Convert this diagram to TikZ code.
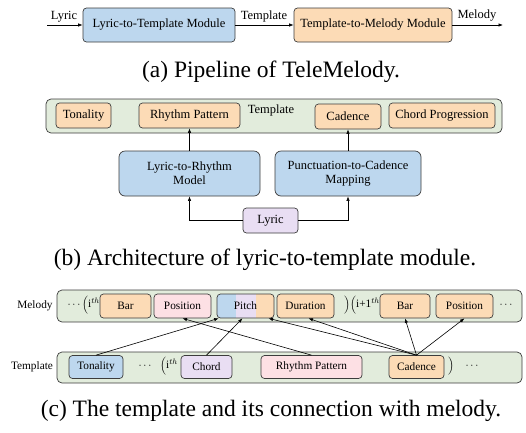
\documentclass[tikz,border=0pt]{standalone}
\usepackage{fontspec}
\setmainfont{Liberation Serif}
\usetikzlibrary{arrows.meta,calc}

\definecolor{cblue}{RGB}{189,215,238}
\definecolor{corange}{RGB}{252,219,182}
\definecolor{cpink}{RGB}{253,224,228}
\definecolor{cpurple}{RGB}{233,222,243}
\definecolor{cgreen}{RGB}{226,236,220}
\definecolor{edge}{RGB}{60,60,60}

\tikzset{
  box/.style={draw=edge, line width=0.7pt, rounded corners=3.5pt, inner sep=0pt, align=center},
  frame/.style={box, fill=cgreen, rounded corners=5pt},
  lbl/.style={inner sep=0pt},
  arr/.style={-{Latex[length=4.5pt,width=3.4pt]}, line width=0.6pt},
  fa/.style={font=\fontsize{12.5}{14}\selectfont},
  fc/.style={font=\fontsize{11.3}{13}\selectfont},
  captext/.style={lbl, font=\fontsize{23.5}{26}\selectfont},
}

\begin{document}
\begin{tikzpicture}[x=1pt,y=-1pt]
\useasboundingbox (0,0) rectangle (526,432);

% ---------- (a) pipeline ----------
\node[box, fa, fill=cblue, minimum width=152pt, minimum height=34pt] (l2t) at (159,25) {Lyric-to-Template Module};
\node[box, fa, fill=corange, minimum width=158pt, minimum height=34pt] (t2m) at (373,25) {Template-to-Melody Module};
\coordinate (lyrin) at (47,25);
\coordinate (melout) at (503,25);
\draw[arr] (lyrin) -- (l2t.west);
\draw[arr] (l2t.east) -- (t2m.west);
\draw[arr] (t2m.east) -- (melout);
\node[lbl, fa] (la) at (64,17) {Lyric};
\node[lbl, fa] (ta) at (264,16) {Template};
\node[lbl, fa] (ma) at (477,16) {Melody};
\node[captext] (capa) at (271,72) {(a) Pipeline of TeleMelody.};

% ---------- (b) lyric-to-template module ----------
\node[frame, minimum width=456pt, minimum height=34pt] (tplb) at (274,116) {};
\node[box, fa, fill=corange, minimum width=55pt, minimum height=25pt] (tonb) at (83.5,115.5) {Tonality};
\node[box, fa, fill=corange, minimum width=101pt, minimum height=25pt] (rhyb) at (189.5,115.5) {Rhythm Pattern};
\node[lbl, fa] (tplbl) at (271,110) {Template};
\node[box, fa, fill=corange, minimum width=66pt, minimum height=25pt] (cadb) at (348,116.5) {Cadence};
\node[box, fa, fill=corange, minimum width=106pt, minimum height=25pt] (chpb) at (442,115.5) {Chord Progression};
\node[box, fa, fill=cblue, minimum width=141pt, minimum height=45pt, rounded corners=6pt] (l2r) at (189.5,173.5) {Lyric-to-Rhythm\\Model};
\node[box, fa, fill=cblue, minimum width=146pt, minimum height=45pt, rounded corners=6pt] (pcm) at (348,173.5) {Punctuation-to-Cadence\\Mapping};
\node[box, fa, fill=cpurple, minimum width=55pt, minimum height=25pt] (lyrb) at (270.5,220.5) {Lyric};
\draw[arr] (lyrb.west) -| (l2r.south);
\draw[arr] (lyrb.east) -| (pcm.south);
\draw[arr] (l2r.north) -- (rhyb.south);
\draw[arr] (pcm.north) -- (cadb.south);
\node[captext] (capb) at (265,260) {(b) Architecture of lyric-to-template module.};

% ---------- (c) template and melody ----------
\node[lbl, fc] (mlbl) at (35,306) {Melody};
\node[frame, minimum width=465pt, minimum height=32pt] (melc) at (289.5,306) {};
\node[lbl, fc, anchor=east] (mopen) at (100,305) {$\cdots\Big($i$^{th}$};
\node[box, fc, fill=corange, minimum width=51pt, minimum height=24pt] (bar1) at (125.5,306) {Bar};
\node[box, fc, fill=cpink, minimum width=57pt, minimum height=24pt] (pos1) at (182.5,306) {Position};
\begin{scope}
  \clip[rounded corners=3.5pt] (217,294) rectangle (274,318);
  \fill[cblue] (217,294) rectangle (236,318);
  \fill[cpurple] (236,294) rectangle (256,318);
  \fill[corange] (256,294) rectangle (274,318);
\end{scope}
\node[box, fc, minimum width=57pt, minimum height=24pt] (pitch) at (245.5,306) {Pitch};
\node[box, fc, fill=corange, minimum width=57pt, minimum height=24pt] (dur) at (305.5,306) {Duration};
\node[lbl, fc, anchor=east] (mnext) at (380,305) {$\Big)\Big($i+1$^{th}$};
\node[box, fc, fill=corange, minimum width=50pt, minimum height=24pt] (bar2) at (405,306) {Bar};
\node[box, fc, fill=corange, minimum width=57pt, minimum height=24pt] (pos2) at (464.5,306) {Position};
\node[lbl, fc] (mdots) at (506,305) {$\cdots$};

\node[lbl, fc] (tlbl) at (32,367) {Template};
\node[frame, minimum width=465pt, minimum height=31pt] (tplc) at (289.5,367.5) {};
\node[box, fc, fill=cblue, minimum width=54pt, minimum height=23pt] (tonc) at (96,367) {Tonality};
\node[lbl, fc] (tdots1) at (145,366) {$\cdots$};
\node[lbl, fc, anchor=west] (topen) at (160,366) {$\Big($i$^{th}$};
\node[box, fc, fill=cpurple, minimum width=51pt, minimum height=23pt] (chord) at (206.5,367) {Chord};
\node[box, fc, fill=cpink, minimum width=101pt, minimum height=23pt] (rhyc) at (311.5,367) {Rhythm Pattern};
\node[box, fc, fill=corange, minimum width=55pt, minimum height=23pt] (cadc) at (416.5,367) {Cadence};
\node[lbl, fc] (tclose) at (451,366) {$\Big)$};
\node[lbl, fc] (tdots2) at (472,366) {$\cdots$};

\draw[arr] (tonc.north) -- ($(pitch.south west)+(2,0)$);
\draw[arr] (chord.north) -- ($(pitch.south)+(-3,0)$);
\draw[arr] (rhyc.north) -- (pos1.south);
\draw[arr] (cadc.north) -- ($(pitch.south)+(23,0)$);
\draw[arr] (cadc.north) -- ($(dur.south)+(3,0)$);
\draw[arr] (cadc.north) -- (bar2.south);
\draw[arr] (cadc.north) -- (pos2.south);

\node[captext] (capc) at (271,411) {(c) The template and its connection with melody.};
\end{tikzpicture}
\end{document}
